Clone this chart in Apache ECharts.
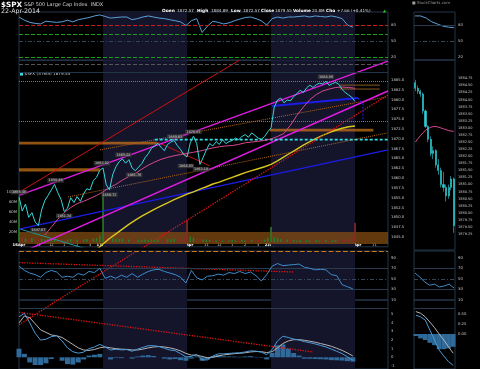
<!DOCTYPE html>
<html>
<head>
<meta charset="utf-8">
<script src="https://cdn.jsdelivr.net/npm/echarts@6.0.0/dist/echarts.min.js"></script>
<style>
html,body{margin:0;padding:0;background:#000;overflow:hidden;}
#chart{width:480px;height:369px;}
</style>
</head>
<body>
<div id="chart"></div>
<script>
// ================= DATA =================
const shadeDays = [[78,156],[234,312]];              // 17-Apr and 22-Apr sessions (bar index)
const tickBars  = [0,18,30,42,54,66,78,96,108,120,132,144,156,174,186,198,210,222,234,252,264,276,288,300,312,330];
const tickTexts = ['16Apr','11','12','1','2','3','17Apr','11','12','1','2','3','21Apr','11','12','1','2','3','22Apr','11','12','1','2','3','23Apr','11'];

// $SPX 5-min, one sample every 3 bars
const spx16 = [1855.3,1851.6,1853.4,1850.0,1851.2,1848.8,1847.9,1851.9,1854.3,1855.6,1857.0,1858.4,1856.3,1854.6,1851.5,1852.3,1855.0,1853.8,1855.3,1854.1,1856.0,1857.3,1857.0,1859.4,1860.2,1862.0];
const spx17 = [1862.6,1858.3,1857.0,1860.9,1862.9,1864.2,1864.9,1863.8,1864.7,1862.6,1861.9,1862.8,1863.7,1865.2,1866.2,1867.6,1868.2,1868.9,1867.8,1867.0,1868.6,1869.2,1869.6,1868.3,1867.3,1866.0];
const spx21 = [1865.4,1869.0,1870.7,1868.8,1863.5,1865.3,1867.2,1868.8,1868.2,1869.3,1868.6,1869.8,1868.8,1869.3,1869.6,1870.2,1869.8,1870.6,1871.1,1870.4,1871.5,1870.9,1870.2,1869.9,1870.6,1871.8];
const spx22 = [1872.8,1878.1,1879.9,1880.4,1879.2,1879.9,1879.7,1880.8,1881.5,1882.4,1881.8,1883.0,1883.7,1883.1,1883.8,1884.2,1884.0,1884.7,1883.6,1884.1,1884.4,1883.9,1882.6,1881.8,1881.2,1880.6,1879.55];
// volume (millions), same sampling
const vol16 = [88,9,7,6,8,10,7,6,5,6,5,4,6,5,4,5,6,4,5,4,5,6,5,7,8,13];
const vol17 = [100,12,10,8,7,6,6,5,5,6,4,5,4,5,4,5,4,5,4,4,5,5,6,5,7,11];
const vol21 = [45,11,9,7,6,5,5,4,4,3,4,3,4,3,4,3,3,4,3,3,4,3,4,4,5,9];
const vol22 = [30,10,8,6,5,5,4,4,3,4,3,4,3,3,4,3,3,4,3,3,4,4,5,5,6,8,38];
// moving averages, one value every 6 bars
const maPinkStart = 24;
const maPink = [1845.5,1847.5,1849.5,1851.2,1852.5,1853.5,1854.1,1854.8,1855.6,1856.5,1857.6,1858.4,1859.5,1860.4,1861.2,1862.3,1863.3,1864.1,1864.8,1865.3,1865.7,1866.0,1866.3,1866.6,1866.9,1867.3,1867.7,1868.0,1868.2,1868.3,1868.6,1869.0,1869.2,1869.4,1869.6,1870.0,1870.6,1871.4,1873.5,1876.0,1878.1,1880.0,1881.3,1882.2,1882.7,1883.1,1883.2,1883.1,1882.9];
const maYellowStart = 72;
const maYellow = [1841.8,1843.2,1844.6,1845.8,1847.0,1848.2,1849.3,1850.3,1851.2,1852.1,1852.9,1853.7,1854.5,1855.2,1855.9,1856.5,1857.2,1857.8,1858.5,1859.0,1859.6,1860.2,1860.8,1861.4,1861.9,1862.4,1862.9,1863.5,1864.4,1865.4,1866.4,1867.4,1868.4,1869.3,1870.1,1870.9,1871.6,1872.2,1872.7,1873.1,1873.3];
// high / low notes
const peakNotes = [[0,1855.49,'top'],[34,1858.46,'top'],[42,1851.34,'bottom'],[18,1847.67,'bottom'],[77,1862.82,'top'],[84,1856.72,'bottom'],[97,1865.02,'top'],[107,1861.76,'bottom'],[145,1869.63,'top'],[162,1870.87,'top'],[155,1864.03,'bottom'],[169,1863.18,'bottom'],[285,1884.89,'top']];

// indicators, one value every 5 bars
const stoch = [95,89,85,83,82,87,86,85,86,89,86,90,92,94,97,99,96,93,94,95,95,90,92,95,97,95,93,92,90,88,86,79,88,92,66,78,87,85,82,84,88,91,94,95,92,88,80,92,95,93,95,95,96,97,95,97,96,95,97,95,92,80,76];
const rsi = [74,66,61,58,53,62,66,63,53,55,53,60,57,64,62,70,51,55,51,57,53,60,53,59,64,67,68,64,61,58,53,42,66,52,48,55,56,59,57,62,60,64,60,63,56,46,58,74,79,75,76,77,78,72,70,67,68,67,58,56,39,35,31];
const macd = [4.7,5.1,4.0,2.8,2.0,2.1,2.4,2.5,1.9,1.1,0.65,0.48,0.6,1.0,1.2,1.5,1.2,0.85,0.93,0.86,0.9,0.7,0.95,1.15,1.35,1.35,1.25,1.05,0.85,0.77,0.42,0.05,0.1,0.35,-0.3,-0.3,0.15,0.4,0.4,0.45,0.5,0.53,0.62,0.75,0.72,0.6,0.3,0.9,1.9,2.45,2.3,2.12,2.0,1.82,1.7,1.55,1.38,1.2,0.95,0.7,0.42,0.05,-0.35];
const signal = [4.0,4.8,4.6,3.9,3.2,2.9,2.6,2.5,2.3,1.9,1.5,1.1,0.85,0.8,0.9,1.1,1.2,1.1,1.0,0.95,0.92,0.85,0.85,0.95,1.1,1.2,1.25,1.2,1.1,0.95,0.75,0.45,0.25,0.25,0.1,-0.05,0.0,0.15,0.28,0.35,0.42,0.47,0.53,0.62,0.67,0.65,0.55,0.65,1.1,1.6,1.9,2.05,2.05,1.98,1.87,1.75,1.6,1.45,1.28,1.05,0.8,0.5,0.15];
const hist = [1.0,0.4,-0.6,-0.9,-0.9,-0.7,-0.2,0.0,-0.4,-0.8,-0.85,-0.6,-0.25,0.2,0.3,0.4,0.0,-0.25,-0.07,-0.1,0.0,-0.15,0.1,0.2,0.25,0.15,0.0,-0.15,-0.25,-0.2,-0.33,-0.4,-0.15,0.1,-0.4,-0.25,0.15,0.25,0.12,0.1,0.08,0.06,0.1,0.13,0.05,-0.05,-0.25,0.5,1.4,1.5,1.0,0.5,0.2,-0.16,-0.17,-0.2,-0.22,-0.25,-0.33,-0.35,-0.38,-0.45,-0.5];

// trend lines drawn by the analyst, [bar, value]
const redSolid      = [[0,1856.4],[204.3,1890]];
const redDotMain    = [[110,1841.4],[342.6,1881.2]];
const redDotRsi     = [[36.2,10],[109.6,102.7]];
const redDotMacd    = [[0,3.78],[36.2,6.66]];
const redFlatRsi    = [[0,80.7],[254.4,63]];
const redFlatMacd   = [[0,5.23],[273,0.62]];
const redShort      = [[128.2,1869.2],[177.4,1863.1]];
const magUpper      = [[0,1855.6],[342.6,1889.8]];
const magLower      = [[10,1842.0],[342.6,1882.2]];
const blueLong      = [[0,1847.0],[342.6,1867.2]];
const blueShort     = [[234.9,1878.4],[314.8,1880.4]];
const blueDrop      = [[314.8,1880.4],[319.4,1878.9],[319.4,1874.3]];
const orangeDotA    = [[75.2,1867.2],[341.7,1880.7]];
const orangeDotB    = [[45.5,1855.2],[341.7,1871.5]];
const tealLine      = [[0,1847.1],[65.9,1841.7]];
const cyanLevel     = [[126,1869.8],[342.6,1869.8]];
const brownLevel1   = [[298,1883.7],[335,1883.7]];
const brownLevel2   = [[298,1882.7],[335,1882.7]];
const orangeZones   = [[0,128,1868.6,1869.3],[0,75,1861.7,1862.5],[233,329,1871.9,1872.6]];
const supportZone   = [0,342.6,1843.2,1846.3];

// right-hand detail panels
const sStoch  = [97,97,93,86,82,78,76,75];
const sCandles = [[1884.6,1884.4,1884.3,1884.7],[1884.4,1884.3,1884.2,1884.5],[1884.3,1884.2,1884.1,1884.35],[1884.2,1883.6,1883.5,1884.25],[1883.6,1883.05,1883.0,1883.65],[1883.05,1882.6,1882.5,1883.1],[1882.6,1882.1,1882.0,1882.7],[1882.1,1882.2,1881.9,1882.35],[1882.2,1881.7,1881.6,1882.25],[1881.7,1881.5,1881.35,1881.9],[1881.5,1881.0,1880.9,1881.6],[1881.0,1880.9,1880.75,1881.45],[1880.9,1880.6,1880.4,1881.0],[1880.6,1880.9,1880.5,1881.0],[1880.9,1881.2,1880.8,1881.3],[1881.2,1879.55,1879.3,1881.25]];
const sPink   = [1882.5,1882.62,1882.73,1882.83,1882.92,1882.98,1883.02,1883.05,1883.05,1883.03,1883.0,1882.97,1882.94,1882.91,1882.89,1882.88];
const sRsi    = [61,53.5,44,38,40,34.6,36.5,40,32.7];
const sMacd   = [0.47,0.43,0.35,0.1,-0.15,-0.4,-0.55,-0.69,-0.78];
const sSignal = [0.56,0.52,0.43,0.3,0.16,0.0,-0.15,-0.32,-0.48];
const sHist   = [-0.05,-0.11,-0.15,-0.22,-0.28,-0.38,-0.38,-0.36,-0.32];
const sPriceTicks = [1879.25,1879.5,1879.75,1880,1880.25,1880.5,1880.75,1881,1881.25,1881.5,1881.75,1882,1882.25,1882.5,1882.75,1883,1883.25,1883.5,1883.75,1884,1884.25,1884.5,1884.75];

// ================= CHART =================
const FONT = 'DejaVu Sans';
const LBL = '#c4c4c4';
const BORDER = '#25364a';
const XMAX = 342.6;

const priceVals = [].concat(spx16, spx17, spx21, spx22);
const volVals = [].concat(vol16, vol17, vol21, vol22);
const priceData = priceVals.map((v,i)=>[i*3, v]);
const volData = volVals.map((v,i)=>({value:[i*3, v], itemStyle:{color: (i===0 || priceVals[i]>=priceVals[i-1]) ? '#2a7a2a' : '#8a2a2a'}}));
const step = (arr, start, s)=>arr.map((v,i)=>[start+i*s, v]);

function line(ax, data, color, width, type, z, extra){
  return Object.assign({type:'line', xAxisIndex:ax, yAxisIndex:ax, data:data, symbol:'none', showSymbol:false, silent:true, z:z||3,
    lineStyle:{color:color, width:width, type:type||'solid'}}, extra||{});
}
function shade(ax){
  return {type:'line', xAxisIndex:ax, yAxisIndex:ax, data:[], z:0, silent:true,
    markArea:{silent:true, itemStyle:{color:'#14142b'}, data: shadeDays.map(d=>[{xAxis:d[0]},{xAxis:d[1]}])}};
}
function hlines(ax, defs){
  return {type:'line', xAxisIndex:ax, yAxisIndex:ax, data:[], z:1, silent:true,
    markLine:{silent:true, symbol:['none','none'], label:{show:false},
      data: defs.map(d=>({yAxis:d.v, lineStyle:{color:d.c, width:d.w||1, type:d.t||'solid'}}))}};
}
function tags(ax, defs){
  return {type:'line', xAxisIndex:ax, yAxisIndex:ax, data:[], z:20, silent:true,
    markLine:{silent:true, symbol:['none','none'],
      data: defs.map(d=>({yAxis:d.v, lineStyle:{opacity:0},
        label:{show:true, position:'end', distance:1, formatter:d.t, fontSize:3.6, fontFamily:FONT,
          color:d.fg||'#fff', backgroundColor:d.bg, borderColor:d.bc||d.bg, borderWidth:0.6, padding:[0.8,1.2]}}))}};
}
function yax(grid, min, max, extra, label){
  return Object.assign({type:'value', gridIndex:grid, min:min, max:max, position:'right',
    axisLine:{show:false}, axisTick:{show:false}, splitLine:{show:false},
    axisLabel:Object.assign({fontSize:3.8, color:LBL, fontFamily:FONT, margin:3}, label||{})}, extra||{});
}
function xax(grid, min, max){
  return {type:'value', gridIndex:grid, min:min, max:max, show:false};
}

const option = {
  backgroundColor:'#000',
  animation:false,
  textStyle:{fontFamily:FONT},
  grid:[
    {left:19, top:12, width:369, height:48, show:true, borderColor:BORDER, borderWidth:1},
    {left:19, top:60.4, width:369, height:186.4, show:true, borderColor:BORDER, borderWidth:1},
    {left:19, top:192.3, width:369, height:49.7, show:false},
    {left:19, top:251, width:369, height:49, show:true, borderColor:BORDER, borderWidth:1},
    {left:19, top:300, width:369, height:69, show:true, borderColor:BORDER, borderWidth:1},
    {left:414, top:12, width:41, height:48, show:true, borderColor:BORDER, borderWidth:1},
    {left:414, top:60, width:41, height:190, show:true, borderColor:BORDER, borderWidth:1},
    {left:414, top:251, width:41, height:49, show:true, borderColor:BORDER, borderWidth:1},
    {left:414, top:300, width:41, height:69, show:true, borderColor:BORDER, borderWidth:1}
  ],
  xAxis:[
    xax(0,0,XMAX),
    xax(1,0,XMAX),
    {type:'value', gridIndex:2, min:0, max:XMAX, axisLine:{show:false}, axisTick:{show:false}, splitLine:{show:false},
      axisLabel:{customValues:tickBars, margin:1.5, fontSize:3.8, fontFamily:FONT,
        formatter:v=>{const t=tickTexts[tickBars.indexOf(v)]||''; return /Apr/.test(t)?'{d|'+t+'}':'{h|'+t+'}';},
        rich:{d:{fontWeight:'bold', color:'#fff', fontSize:3.8, fontFamily:FONT}, h:{color:'#c8c8c8', fontSize:3.8, fontFamily:FONT}}}},
    xax(3,0,XMAX),
    xax(4,0,XMAX),
    xax(5,-0.2,sStoch.length-0.8),
    {type:'category', gridIndex:6, data:sCandles.map((c,i)=>i), show:false},
    xax(7,-0.2,sRsi.length-0.8),
    xax(8,-0.4,sMacd.length-0.6)
  ],
  yAxis:[
    yax(0,14.4,104.4,{}, {customValues:[20,50,80]}),
    yax(1,1842.5,1890,{interval:2.5}, {formatter:v=>(v>=1845&&v<=1885)?v.toFixed(1):''}),
    yax(2,0,100,{interval:20, position:'left'}, {margin:2, formatter:v=>v>0?v+'M':''}),
    yax(3,10,102.7,{}, {customValues:[10,30,50,70,90]}),
    yax(4,-1.36,6.66,{}, {customValues:[-1,0,1,2,3,4,5]}),
    yax(5,14.4,104.4,{}, {customValues:[20,50,80]}),
    yax(6,1878.69,1885.4,{}, {customValues:sPriceTicks, fontSize:3.5, formatter:v=>v.toFixed(2)}),
    yax(7,10,102.7,{}, {customValues:[10,30,50,70,90]}),
    yax(8,-0.875,0.85,{}, {customValues:[0,0.25,0.5], formatter:v=>v.toFixed(2)})
  ],
  series:[
    // session shading
    shade(0), shade(1), shade(3), shade(4),
    // ---- top panel
    hlines(0,[{v:80,c:'#c81e1e',t:'dashed'},{v:63,c:'#17a017',t:'dashed'},{v:50,c:'#34465a',t:[4,2,1,2]},{v:20,c:'#17a017',t:'dashed'}]),
    line(0, step(stoch,0,5), '#5aa0d8', 1),
    // ---- main price panel
    {type:'line', xAxisIndex:1, yAxisIndex:1, data:[], z:1, silent:true,
      markArea:{silent:true, data: orangeZones.map(b=>[{xAxis:b[0], yAxis:b[2], itemStyle:{color:'rgba(196,112,24,0.75)'}},{xAxis:b[1], yAxis:b[3]}])
        .concat([[{xAxis:supportZone[0], yAxis:supportZone[2], itemStyle:{color:'rgba(140,80,18,0.7)'}},{xAxis:supportZone[1], yAxis:supportZone[3]}]])}},
    hlines(1,[{v:1889.1,c:'#555',t:'dashed'},{v:1887.0,c:'#223448'},{v:1884.75,c:'#b8681c',t:'dotted'},{v:1874.55,c:'#b8681c',t:'dotted'}]),
    {type:'bar', xAxisIndex:2, yAxisIndex:2, data:volData, barWidth:1.6, z:2, silent:true},
    line(1, brownLevel1, '#8a5a20', 1, 'solid', 2),
    line(1, brownLevel2, '#8a5a20', 1, 'solid', 2),
    line(1, orangeDotA, '#b8681c', 1, 'dotted', 2),
    line(1, orangeDotB, '#b8681c', 1, 'dotted', 2),
    line(1, tealLine, '#1c9a9a', 1, 'solid', 2),
    line(1, blueLong, '#1c1ce8', 1.4, 'solid', 3),
    line(1, maYellow.map((v,i)=>[maYellowStart+i*6, v]), '#d8c81c', 1.4, 'solid', 3),
    line(1, redSolid, '#d01010', 1, 'solid', 3),
    line(1, redDotMain, '#e01414', 1.3, 'dotted', 3),
    line(1, redShort, '#c01010', 1, 'solid', 3),
    line(1, magUpper, '#e01ce0', 1.4, 'solid', 3),
    line(1, magLower, '#e01ce0', 1.4, 'solid', 3),
    line(1, cyanLevel, '#30e0e6', 1.6, [3,2], 4),
    line(1, blueShort, '#1c1ce8', 2, 'solid', 4),
    line(1, blueDrop, '#1c1ce8', 1.2, [2,1.5], 4),
    line(1, maPink.map((v,i)=>[maPinkStart+i*6, v]), '#d84890', 1, 'solid', 4),
    line(1, priceData, '#37d6dc', 1, 'solid', 5),
    {type:'scatter', xAxisIndex:1, yAxisIndex:1, z:10, silent:true, symbolSize:0,
      data: peakNotes.map(p=>({value:[p[0],p[1]], label:{position:p[2]}})),
      label:{show:true, distance:1.5, formatter:p=>p.value[1].toFixed(2), fontSize:3.4, fontFamily:FONT, color:'#e8e8e8',
        backgroundColor:'#3c3c3c', padding:[0.7,1.2]}},
    // ---- RSI panel
    hlines(3,[{v:102.5,c:'#d07818',t:'dashed',w:1.2},{v:70,c:'#2a3b50'},{v:50,c:'#34465a',t:[4,2,1,2]},{v:30,c:'#2a3b50'}]),
    line(3, redFlatRsi, '#e01414', 1.3, 'dotted', 3),
    line(3, redDotRsi, '#e01414', 1.3, 'dotted', 3),
    line(3, step(rsi,0,5), '#3d8ccc', 1, 'solid', 5),
    // ---- MACD panel
    hlines(4,[{v:5.75,c:'#2a3b50'}]),
    {type:'bar', xAxisIndex:4, yAxisIndex:4, data:step(hist,0,5), barWidth:5, z:2, silent:true, itemStyle:{color:'#2f6a9a'}},
    line(4, redFlatMacd, '#e01414', 1.3, 'dotted', 3),
    line(4, redDotMacd, '#e01414', 1.3, 'dotted', 3),
    line(4, step(signal,0,5), '#b4b4b4', 1, 'solid', 4),
    line(4, step(macd,0,5), '#4a9ad8', 1, 'solid', 5),
    // ---- detail panels
    hlines(5,[{v:80,c:'#2a3b50'},{v:50,c:'#34465a',t:[4,2,1,2]}]),
    line(5, sStoch.map((v,i)=>[i,v]), '#5aa0d8', 1, 'solid', 4),
    tags(5,[{v:sStoch[sStoch.length-1], t:'75.10', bg:'#1a3550', bc:'#4a8ac0'}]),
    {type:'candlestick', xAxisIndex:6, yAxisIndex:6, data:sCandles, barWidth:1.6, z:4, silent:true,
      itemStyle:{color:'#30d0d8', color0:'#30d0d8', borderColor:'#30d0d8', borderColor0:'#30d0d8', borderWidth:0.6}},
    line(6, sPink, '#d84890', 1, 'solid', 4),
    tags(6,[{v:1882.88, t:'1882.88', bg:'#3a1030', bc:'#d84890'},{v:1880.62, t:'1880.62', bg:'#1a2a50', bc:'#3a6ad0'},{v:1879.55, t:'1879.55', bg:'#12402c', bc:'#30c090'}]),
    hlines(7,[{v:70,c:'#2a3b50'},{v:50,c:'#34465a',t:[4,2,1,2]},{v:30,c:'#2a3b50'}]),
    line(7, sRsi.map((v,i)=>[i,v]), '#3d8ccc', 1, 'solid', 4),
    tags(7,[{v:31.5, t:'31.50', bg:'#1a3550', bc:'#4a8ac0'}]),
    hlines(8,[{v:0.65,c:'#2a3b50'}]),
    {type:'bar', xAxisIndex:8, yAxisIndex:8, data:sHist.map((v,i)=>[i,v]), barWidth:4.8, z:2, silent:true, itemStyle:{color:'#2f6a9a'}},
    line(8, sSignal.map((v,i)=>[i,v]), '#b4b4b4', 1, 'solid', 4),
    line(8, sMacd.map((v,i)=>[i,v]), '#4a9ad8', 1, 'solid', 5),
    tags(8,[{v:-0.27, t:'-0.269', bg:'#2a2a2a', bc:'#888'},{v:-0.48, t:'-0.474', bg:'#2a2a2a', bc:'#aaa'},{v:-0.79, t:'-0.787', bg:'#1a3550', bc:'#4a8ac0'}])
  ],
  graphic:[
    {type:'text', x:1, y:5, style:{text:'$SPX', fill:'#fff', font:'bold 7.2px "DejaVu Sans"', verticalAlign:'middle'}},
    {type:'text', x:24, y:4.5, style:{text:'S&P 500 Large Cap Index  INDX', fill:'#cfcfcf', font:'5px "DejaVu Sans"', verticalAlign:'middle'}},
    {type:'text', x:1, y:11.5, style:{text:'22-Apr-2014', fill:'#e0e0e0', font:'6.3px "DejaVu Sans"', verticalAlign:'middle'}},
    {type:'text', x:162, y:10.5, style:{text:'Open', fill:'#fff', font:'bold 4.3px "DejaVu Sans"', verticalAlign:'middle'}},
    {type:'text', x:177, y:10.5, style:{text:'1872.57', fill:'#ddd', font:'4.1px "DejaVu Sans"', verticalAlign:'middle'}},
    {type:'text', x:197, y:10.5, style:{text:'High', fill:'#fff', font:'bold 4.3px "DejaVu Sans"', verticalAlign:'middle'}},
    {type:'text', x:211, y:10.5, style:{text:'1884.89', fill:'#ddd', font:'4.1px "DejaVu Sans"', verticalAlign:'middle'}},
    {type:'text', x:231, y:10.5, style:{text:'Low', fill:'#fff', font:'bold 4.3px "DejaVu Sans"', verticalAlign:'middle'}},
    {type:'text', x:243, y:10.5, style:{text:'1872.57', fill:'#ddd', font:'4.1px "DejaVu Sans"', verticalAlign:'middle'}},
    {type:'text', x:261, y:10.5, style:{text:'Close', fill:'#fff', font:'bold 4.3px "DejaVu Sans"', verticalAlign:'middle'}},
    {type:'text', x:275, y:10.5, style:{text:'1879.55', fill:'#ddd', font:'4.1px "DejaVu Sans"', verticalAlign:'middle'}},
    {type:'text', x:293, y:10.5, style:{text:'Volume', fill:'#fff', font:'bold 4.3px "DejaVu Sans"', verticalAlign:'middle'}},
    {type:'text', x:312, y:10.5, style:{text:'20.8M', fill:'#ddd', font:'4.1px "DejaVu Sans"', verticalAlign:'middle'}},
    {type:'text', x:326, y:10.5, style:{text:'Chg', fill:'#fff', font:'bold 4.3px "DejaVu Sans"', verticalAlign:'middle'}},
    {type:'text', x:337, y:10.5, style:{text:'+7.66 (+0.41%)', fill:'#ddd', font:'4.1px "DejaVu Sans"', verticalAlign:'middle'}},
    {type:'text', x:383, y:10.5, style:{text:'▲', fill:'#22c022', font:'4px "DejaVu Sans"', verticalAlign:'middle'}},
    {type:'text', x:412, y:3, style:{text:'■ StockCharts.com', fill:'#9a9a9a', font:'3.9px "DejaVu Sans"', verticalAlign:'middle'}},
    {type:'rect', shape:{x:20, y:72.6, width:3, height:3}, style:{fill:'#37d6dc'}},
    {type:'text', x:24.5, y:74.2, style:{text:'$SPX (5 min) 1879.55', fill:'#d0d0d0', font:'4.2px "DejaVu Sans"', verticalAlign:'middle'}}
  ]
};

const chart = echarts.init(document.getElementById('chart'), null, {renderer:'canvas', width:480, height:369});
chart.setOption(option);
</script>
</body>
</html>
